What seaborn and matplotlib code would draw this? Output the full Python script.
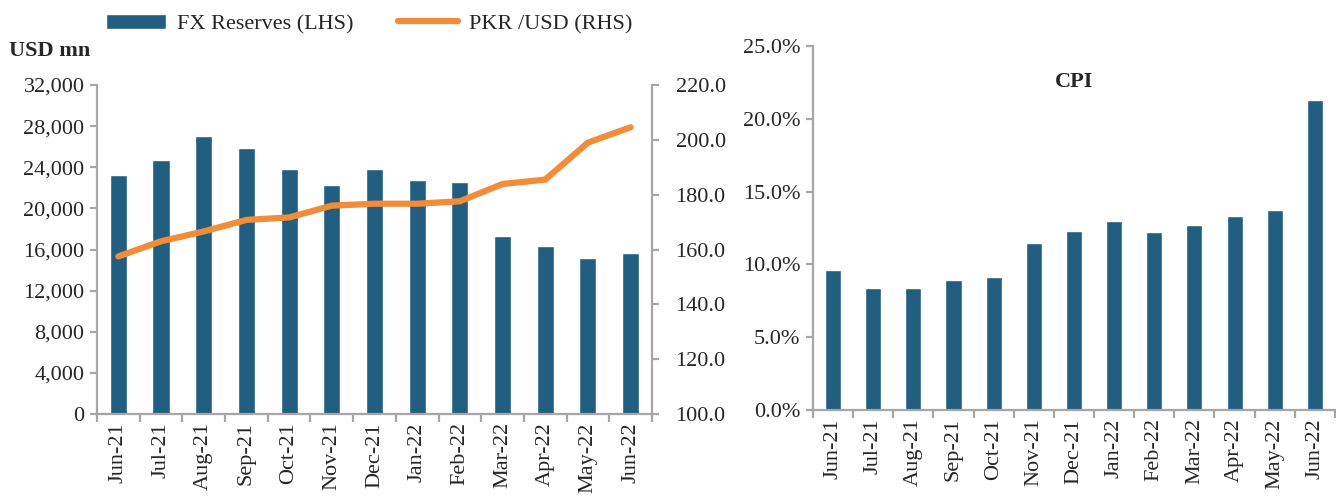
import seaborn as sns
import matplotlib.pyplot as plt
import pandas as pd
from matplotlib.patches import Patch
from matplotlib.lines import Line2D
from matplotlib.ticker import FuncFormatter, FixedLocator

# Data
months = ['Jun-21', 'Jul-21', 'Aug-21', 'Sep-21', 'Oct-21', 'Nov-21', 'Dec-21',
          'Jan-22', 'Feb-22', 'Mar-22', 'Apr-22', 'May-22', 'Jun-22']
fx_reserves = [23250, 24700, 27000, 25900, 23800, 22300, 23850,
               22800, 22600, 17300, 16300, 15150, 15650]
pkr_usd = [157.5, 163.0, 166.6, 170.8, 171.7, 176.0, 176.7,
           176.7, 177.6, 183.9, 185.5, 199.0, 204.6]
cpi = [9.6, 8.4, 8.35, 8.9, 9.15, 11.5, 12.3,
       12.95, 12.2, 12.7, 13.3, 13.75, 21.3]

df = pd.DataFrame({'month': months, 'fx': fx_reserves, 'pkr': pkr_usd, 'cpi': cpi})

#Style
sns.set_theme(style="white")
plt.rcParams['font.family'] = ['Liberation Serif', 'DejaVu Serif']
plt.rcParams['font.size'] = 16

bar_color = '#215E7F'
line_color = '#F28C38'
spine_color = '#A6A6A6'

fig = plt.figure(figsize=(13.36, 4.99), dpi=100)
ax1 = fig.add_axes([0.0726, 0.1703, 0.4154, 0.6593])
ax3 = fig.add_axes([0.6085, 0.1784, 0.3907, 0.7295])


def excel_axis(ax):
    # gray spines, category ticks between the bars like Excel
    for side in ['top', 'right']:
        ax.spines[side].set_visible(False)
    for s in ax.spines.values():
        s.set_color(spine_color)
        s.set_linewidth(1.6)
    ax.set_xlim(-0.5, len(months) - 0.5)
    ax.xaxis.set_minor_locator(FixedLocator([i - 0.5 for i in range(len(months) + 1)]))
    ax.tick_params(axis='x', which='major', length=0, pad=6, labelsize=16, rotation=90)
    ax.tick_params(axis='x', which='minor', length=6, width=1.6, color=spine_color,
                   direction='out', bottom=True)
    ax.tick_params(axis='y', length=5, width=1.6, color=spine_color, direction='out',
                   labelsize=16, pad=4, left=True)
    ax.set_xlabel('')
    ax.set_ylabel('')
    ax.grid(False)


#Left chart: FX reserves bars + PKR/USD line
sns.barplot(data=df, x='month', y='fx', color=bar_color, width=0.4,
            saturation=1, ax=ax1)
ax1.set_ylim(0, 32000)
ax1.set_yticks(range(0, 32001, 4000))
ax1.yaxis.set_major_formatter(FuncFormatter(lambda v, p: f'{int(v):,}'))
excel_axis(ax1)

ax2 = ax1.twinx()
ax2.plot(range(len(months)), df['pkr'], color=line_color, linewidth=4.5,
         solid_capstyle='round')
ax2.set_ylim(100, 220)
ax2.set_yticks(range(100, 221, 20))
ax2.yaxis.set_major_formatter(FuncFormatter(lambda v, p: f'{v:.1f}'))
for side in ['top', 'left', 'bottom']:
    ax2.spines[side].set_visible(False)
ax2.spines['right'].set_color(spine_color)
ax2.spines['right'].set_linewidth(1.6)
ax2.tick_params(axis='y', length=5, width=1.6, color=spine_color, direction='out',
                labelsize=16, pad=12, right=True)
ax2.grid(False)

fig.text(0.007, 0.897, 'USD mn', fontsize=16, fontweight='bold', va='center', ha='left')

handles = [Patch(facecolor=bar_color, label='FX Reserves (LHS)'),
           Line2D([0], [0], color=line_color, linewidth=4.5, solid_capstyle='round',
                  label='PKR /USD (RHS)')]
fig.legend(handles=handles, loc='center left', bbox_to_anchor=(0.064, 0.952),
           ncol=2, frameon=False, fontsize=16, handlelength=2.7, handleheight=0.7,
           columnspacing=2.0, handletextpad=0.5)

#Right chart: CPI
sns.barplot(data=df, x='month', y='cpi', color=bar_color, width=0.4,
            saturation=1, ax=ax3)
ax3.set_ylim(0, 25)
ax3.set_yticks([0, 5, 10, 15, 20, 25])
ax3.yaxis.set_major_formatter(FuncFormatter(lambda v, p: f'{v:.1f}%'))
excel_axis(ax3)
ax3.text(0.5, 0.9, 'CPI', transform=ax3.transAxes, ha='center', va='center',
         fontsize=16, fontweight='bold')

fig.savefig('out.png', dpi=100)
